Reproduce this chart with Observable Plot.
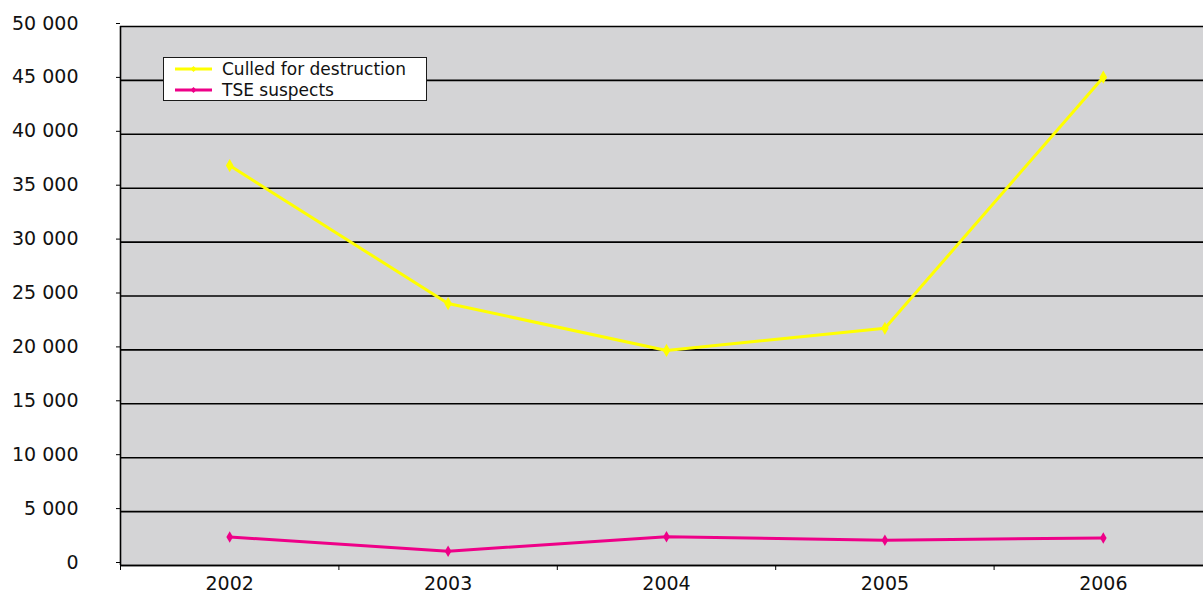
<!DOCTYPE html>
<html>
<head>
<meta charset="utf-8">
<script src="https://cdn.jsdelivr.net/npm/d3@7"></script>
<script src="https://cdn.jsdelivr.net/npm/@observablehq/plot@0.6"></script>
<style>
  html, body { margin: 0; padding: 0; background: #fff; }
  #wrap { position: relative; width: 1203px; height: 594px; overflow: hidden; }
  #legend { position: absolute; left: 163px; top: 57px; width: 262px; height: 42px;
    border: 1.5px solid #1a1a1a; background: #fff; font-family: "DejaVu Sans", sans-serif; font-size: 17px; color: #111; }
  .row { position: absolute; left: 0; height: 20px; display: flex; align-items: center; }
  .row svg { margin-left: 11px; margin-right: 10px; }
</style>
</head>
<body>
<div id="wrap"><div id="chart"></div>
  <div id="legend"></div>
</div>
<script>
const years = [2002, 2003, 2004, 2005, 2006];
const culled = [37100, 24300, 19950, 22000, 45300];
const tse = [2650, 1330, 2660, 2340, 2560];
const yTicks = [0, 5000, 10000, 15000, 20000, 25000, 30000, 35000, 40000, 45000, 50000];
const boundaries = [2001.5, 2002.5, 2003.5, 2004.5, 2005.5, 2006.5];
const seriesNames = ["Culled for destruction", "TSE suspects"];
const seriesColors = ["#ffff00", "#ee0088"];

const culledRows = years.map((y, i) => ({year: y, value: culled[i]}));
const tseRows = years.map((y, i) => ({year: y, value: tse[i]}));
const fmt = d => d3.format(",")(d).replace(/,/g, " ");

const chart = Plot.plot({
  width: 1203,
  height: 594,
  marginLeft: 120,
  marginRight: -9,
  marginTop: 26,
  marginBottom: 29,
  style: {fontFamily: "DejaVu Sans, sans-serif", fontSize: "19px", color: "#111", background: "#fff"},
  x: {type: "linear", domain: [2001.5, 2006.5], label: null},
  y: {domain: [0, 50000], label: null},
  marks: [
    Plot.frame({fill: "#d4d4d6", stroke: null}),
    Plot.gridY(yTicks, {stroke: "#000", strokeOpacity: 1, strokeWidth: 1.6}),
    Plot.ruleY([0], {stroke: "#000", strokeWidth: 1.6}),
    Plot.ruleX([2001.5], {stroke: "#000", strokeWidth: 1.6}),
    Plot.axisY(yTicks, {tickSize: 4, tickPadding: 38, tickFormat: fmt, dy: -3, label: null, stroke: "#000"}),
    Plot.axisX(boundaries, {tickSize: 5, tickFormat: () => "", label: null, stroke: "#000"}),
    Plot.axisX(years, {tickSize: 0, tickPadding: 11, tickFormat: d => String(d), label: null}),
    Plot.line(culledRows, {x: "year", y: "value", stroke: seriesColors[0], strokeWidth: 3}),
    Plot.dot(culledRows, {x: "year", y: "value", fill: seriesColors[0], symbol: "diamond", r: 4}),
    Plot.line(tseRows, {x: "year", y: "value", stroke: seriesColors[1], strokeWidth: 3}),
    Plot.dot(tseRows, {x: "year", y: "value", fill: seriesColors[1], symbol: "diamond", r: 3.5})
  ]
});
document.getElementById("chart").appendChild(chart);

const legend = document.getElementById("legend");
seriesNames.forEach((name, i) => {
  const row = document.createElement("div");
  row.className = "row";
  row.style.top = (1 + i * 21) + "px";
  row.innerHTML = `<svg width="37" height="10"><line x1="0" x2="37" y1="5" y2="5" stroke="${seriesColors[i]}" stroke-width="3"/><path d="M18.5 2 L21.5 5 L18.5 8 L15.5 5 Z" fill="${seriesColors[i]}"/></svg><span>${name}</span>`;
  legend.appendChild(row);
});
</script>
</body>
</html>
